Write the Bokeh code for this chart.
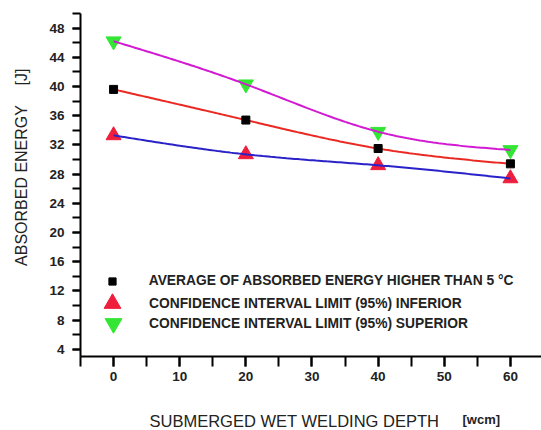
import numpy as np
from bokeh.plotting import figure
from bokeh.models import Range1d, SingleIntervalTicker, Legend, LegendItem, Label
from bokeh.embed import file_html
from bokeh.resources import INLINE

# ---- data ----
depth = [0, 20, 40, 60]
average = [39.6, 35.4, 31.5, 29.4]
inferior = [33.3, 30.7, 29.2, 27.4]
superior = [46.2, 40.3, 33.8, 31.3]

legend_labels = [
    "AVERAGE OF ABSORBED ENERGY HIGHER THAN 5 \u00b0C",
    "CONFIDENCE INTERVAL LIMIT (95%) INFERIOR",
    "CONFIDENCE INTERVAL LIMIT (95%) SUPERIOR",
]
x_title = "SUBMERGED WET WELDING DEPTH"
x_unit = "[wcm]"
y_title = "ABSORBED ENERGY"
y_unit = "[J]"

FONT = "Liberation Sans"
W, H = 541, 430


def natural_spline(xs, ys, n=150):
    xs = np.asarray(xs, float)
    ys = np.asarray(ys, float)
    k = len(xs)
    h = np.diff(xs)
    A = np.zeros((k, k))
    b = np.zeros(k)
    A[0, 0] = 1
    A[-1, -1] = 1
    for i in range(1, k - 1):
        A[i, i - 1] = h[i - 1]
        A[i, i] = 2 * (h[i - 1] + h[i])
        A[i, i + 1] = h[i]
        b[i] = 6 * ((ys[i + 1] - ys[i]) / h[i] - (ys[i] - ys[i - 1]) / h[i - 1])
    M = np.linalg.solve(A, b)
    xx = np.linspace(xs[0], xs[-1], n)
    idx = np.clip(np.searchsorted(xs, xx) - 1, 0, k - 2)
    x0 = xs[idx]
    x1 = xs[idx + 1]
    hh = x1 - x0
    t0 = x1 - xx
    t1 = xx - x0
    yy = (M[idx] * t0 ** 3 / (6 * hh) + M[idx + 1] * t1 ** 3 / (6 * hh)
          + (ys[idx] / hh - M[idx] * hh / 6) * t0
          + (ys[idx + 1] / hh - M[idx + 1] * hh / 6) * t1)
    return xx, yy


# axis extents (data) and where they sit on the canvas (pixels)
x_lo, x_hi = -5, 64.7
y_lo, y_hi = 3, 50
ax_left_px, ax_bottom_px, ax_top_px = 80, 356, 13
xs_per_px = (x_hi - x_lo) / (W - ax_left_px)
ys_per_px = (y_hi - y_lo) / (ax_bottom_px - ax_top_px)

p = figure(width=W, height=H,
           x_range=Range1d(x_lo - ax_left_px * xs_per_px, x_hi),
           y_range=Range1d(y_lo - (H - ax_bottom_px) * ys_per_px, y_hi + ax_top_px * ys_per_px),
           output_backend="svg", toolbar_location=None,
           min_border=0)
p.outline_line_color = None
p.xgrid.visible = False
p.ygrid.visible = False
p.background_fill_color = "white"
p.border_fill_color = "white"

p.xaxis.fixed_location = y_lo
p.yaxis.fixed_location = x_lo
p.xaxis.bounds = (x_lo, x_hi)
p.yaxis.bounds = (y_lo, y_hi)
p.xaxis.ticker = SingleIntervalTicker(interval=10, num_minor_ticks=2)
p.yaxis.ticker = SingleIntervalTicker(interval=4, num_minor_ticks=2)
for ax in (p.xaxis, p.yaxis):
    ax.axis_line_width = 2
    ax.axis_line_color = "black"
    ax.major_tick_line_width = 2
    ax.minor_tick_line_width = 2
    ax.major_tick_line_color = "black"
    ax.minor_tick_line_color = "black"
    ax.major_tick_in = 0
    ax.minor_tick_in = 0
    ax.major_label_text_font = FONT
    ax.major_label_text_font_style = "bold"
    ax.major_label_text_font_size = "13.5px"
    ax.major_label_text_color = "#222222"
p.xaxis.major_tick_out = 10
p.xaxis.minor_tick_out = 10
p.xaxis.major_label_standoff = 5
p.yaxis.major_tick_out = 8
p.yaxis.minor_tick_out = 8
p.yaxis.major_label_standoff = 8

# markers below the curves (triangles)
r_inf = p.scatter(depth, inferior, marker="triangle", size=15,
                  fill_color="#ee1e3c", line_color="#ee1e3c")
r_sup = p.scatter(depth, superior, marker="inverted_triangle", size=15,
                  fill_color="#33e633", line_color="#33e633")

# smooth curves through the data
xs, ys = natural_spline(depth, superior)
p.line(xs, ys, line_color="#d21ad2", line_width=2)
xs, ys = natural_spline(depth, average)
p.line(xs, ys, line_color="#ea2a22", line_width=2)
xs, ys = natural_spline(depth, inferior)
p.line(xs, ys, line_color="#2a22c8", line_width=2)

r_avg = p.scatter(depth, average, marker="square", size=8,
                  fill_color="black", line_color="black")


def make_legend(label, renderer, loc, glyph, standoff):
    leg = Legend(items=[LegendItem(label=label, renderers=[renderer])],
                 location=loc, glyph_width=glyph, glyph_height=glyph,
                 label_standoff=standoff, padding=0, margin=0, spacing=0,
                 border_line_color=None, background_fill_alpha=0,
                 label_text_font=FONT, label_text_font_style="bold",
                 label_text_font_size="13.8px", label_text_color="#222222",
                 label_height=glyph)
    p.add_layout(leg)


make_legend(legend_labels[0], r_avg, (102.7, 140.3), 18, 28)
make_legend(legend_labels[1], r_inf, (91, 106), 42, 16)
make_legend(legend_labels[2], r_sup, (92, 86), 42, 15)

# axis titles
p.add_layout(Label(x=21, y=H - 185, x_units="screen", y_units="screen", text=y_title,
                   angle=np.pi / 2, text_align="center", text_baseline="middle",
                   text_font=FONT, text_font_size="16px", text_color="#222222"))
p.add_layout(Label(x=21, y=H - 76.5, x_units="screen", y_units="screen", text=y_unit,
                   angle=np.pi / 2, text_align="center", text_baseline="middle",
                   text_font=FONT, text_font_size="16px", text_color="#222222"))
p.add_layout(Label(x=149, y=H - 420, x_units="screen", y_units="screen", text=x_title,
                   text_align="left", text_baseline="middle",
                   text_font=FONT, text_font_size="16.5px", text_color="#222222"))
p.add_layout(Label(x=462, y=H - 419, x_units="screen", y_units="screen", text=x_unit,
                   text_align="left", text_baseline="middle",
                   text_font=FONT, text_font_size="13px", text_font_style="bold",
                   text_color="#222222"))

open("out.html", "w").write(file_html(p, INLINE))
